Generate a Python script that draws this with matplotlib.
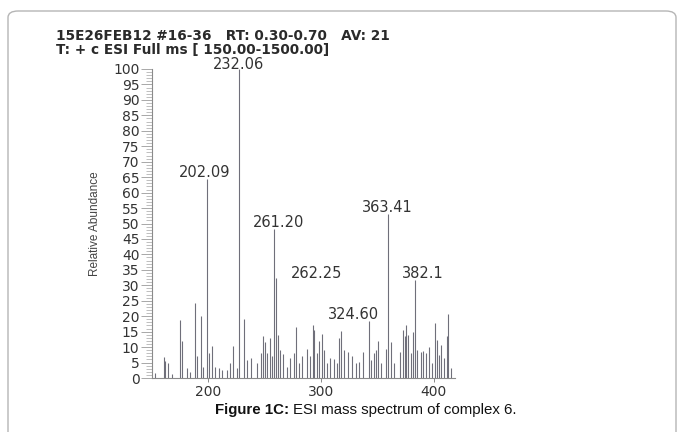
import matplotlib
matplotlib.use('Agg')
import matplotlib.pyplot as plt
from matplotlib.patches import FancyBboxPatch
from matplotlib.ticker import MultipleLocator

#---------------------- DATA
mz = [152.9, 160.3, 161.8, 163.9, 167.7, 174.5, 176.9, 181.0, 184.0, 187.9,
      189.9, 193.8, 195.3, 198.8, 200.9, 203.3, 206.2, 209.2, 212.2, 216.6,
      219.6, 221.6, 225.5, 227.0, 232.0, 234.4, 238.2, 243.3, 246.8, 248.6,
      250.4, 252.2, 254.5, 256.6, 258.7, 260.4, 261.6, 264.0, 266.4, 269.9,
      272.9, 275.9, 278.2, 280.3, 283.3, 287.7, 290.7, 293.0, 294.2, 296.6,
      298.7, 301.0, 303.1, 305.5, 308.4, 311.4, 314.4, 316.4, 318.2, 320.3,
      323.9, 327.7, 330.7, 333.6, 337.5, 342.8, 344.6, 346.9, 349.0, 350.8,
      353.5, 357.3, 359.7, 361.8, 364.7, 369.8, 372.7, 374.5, 375.7, 377.5,
      379.6, 382.0, 383.1, 385.5, 388.4, 390.8, 393.5, 395.9, 398.8, 401.2,
      402.7, 404.7, 406.8, 409.2, 411.6, 413.0, 415.1]
abund = [1.7, 6.7, 5.6, 4.8, 1.3, 18.8, 12.1, 3.1, 2.0, 24.4,
         7.0, 20.1, 3.5, 64.3, 8.0, 10.2, 3.7, 3.1, 2.6, 2.6,
         4.8, 10.4, 3.1, 100.0, 19.0, 5.8, 6.4, 4.8, 8.0, 13.6,
         11.8, 8.0, 12.8, 7.0, 48.2, 32.3, 13.9, 9.0, 7.8, 3.7,
         6.4, 8.0, 16.4, 4.8, 7.2, 9.4, 7.0, 17.2, 15.6, 8.0,
         12.1, 14.4, 9.0, 4.8, 6.4, 6.1, 4.8, 12.8, 15.2, 9.0,
         8.5, 7.0, 4.8, 5.3, 8.5, 18.5, 5.8, 8.0, 9.0, 12.1,
         4.8, 9.5, 53.1, 11.8, 4.8, 8.5, 15.6, 13.5, 17.2, 14.0,
         8.0, 15.0, 31.8, 9.0, 8.5, 8.8, 8.0, 10.1, 4.8, 17.7,
         12.4, 7.5, 10.7, 6.4, 13.7, 20.7, 3.1]

peak_mz = [198.8, 227.0, 258.7, 260.4, 342.8, 359.7, 383.1]
peak_ab = [64.3, 100.0, 48.2, 32.3, 18.5, 53.1, 31.8]
peak_lbl = ['202.09', '232.06', '261.20', '262.25', '324.60', '363.41', '382.1']

header1 = '15E26FEB12 #16-36   RT: 0.30-0.70   AV: 21'
header2 = 'T: + c ESI Full ms [ 150.00-1500.00]'

#---------------------- FIGURE
plt.rcParams['font.family'] = ['DejaVu Sans']
fig = plt.figure(figsize=(6.83, 4.32), dpi=100)

# rounded frame, bottom edge cut by the page
frame = FancyBboxPatch((8/683., -0.2), 668/683., 1.2 - 11/432.,
                       boxstyle='round,pad=0,rounding_size=0.015',
                       transform=fig.transFigure, facecolor='none',
                       edgecolor='#b5b5b5', linewidth=1.0)
fig.patches.append(frame)

ax = fig.add_axes([152/683., 54/432., 303/683., 309/432.])
ax.vlines(mz, 0, abund, color='#6f6f7a', linewidth=0.8)

# label placement (x offset, y offset) for each marked peak
offs = [(-2.0, 2.1), (0.0, 1.3), (3.5, 2.2), (36.0, 1.4), (-14.0, 1.9), (-1.0, 2.0), (7.0, 1.9)]
for x, y, t, (dx, dy) in zip(peak_mz, peak_ab, peak_lbl, offs):
    ax.text(x + dx, y + dy, t, ha='center', va='center', fontsize=10.5,
            color='#333333', clip_on=False)

ax.set_xlim(150, 419)
ax.set_ylim(0, 100)
ax.spines['top'].set_visible(False)
ax.spines['right'].set_visible(False)
ax.spines['left'].set_color('#8a8a8a')
ax.spines['bottom'].set_color('#8a8a8a')
ax.spines['left'].set_linewidth(0.8)
ax.spines['bottom'].set_linewidth(0.8)

ax.yaxis.set_major_locator(MultipleLocator(5))
ax.yaxis.set_minor_locator(MultipleLocator(1))
ax.xaxis.set_major_locator(MultipleLocator(100))
ax.xaxis.set_minor_locator(MultipleLocator(10))
ax.tick_params(axis='y', which='major', length=8, width=0.6, color='#9a9a9a',
               labelsize=10, labelcolor='#333333', pad=1)
ax.tick_params(axis='y', which='minor', length=4, width=0.5, color='#a5a5a5')
ax.tick_params(axis='x', which='major', length=3, width=0.7, color='#8a8a8a',
               labelsize=10, labelcolor='#333333', pad=2)
ax.tick_params(axis='x', which='minor', length=0)

ax.set_ylabel('Relative Abundance', fontsize=8.5, color='#444444', labelpad=9,
              family=['Liberation Sans Narrow', 'Liberation Sans'])

fig.text(56/683., 1 - 36/432., header1, fontsize=9.8, fontweight='bold',
         color='#2a2a2a', va='center', ha='left')
fig.text(56/683., 1 - 50/432., header2, fontsize=9.8, fontweight='bold',
         color='#2a2a2a', va='center', ha='left')

# caption: bold lead-in followed by regular text
cap1 = fig.text(215/683., 1 - 410/432., 'Figure 1C:', fontsize=10.8, fontweight='bold',
                va='center', ha='left', color='#111111', family='Liberation Sans')
r = fig.canvas.get_renderer()
bb = cap1.get_window_extent(renderer=r)
fig.text((bb.x1 + 4)/683., 1 - 410/432., 'ESI mass spectrum of complex 6.', fontsize=10.8,
         va='center', ha='left', color='#111111', family='Liberation Sans')

plt.savefig('out.png', dpi=100)
